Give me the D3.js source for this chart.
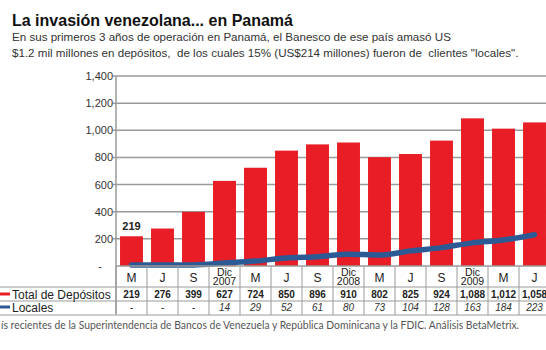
<!DOCTYPE html>
<html>
<head>
<meta charset="utf-8">
<script src="https://cdn.jsdelivr.net/npm/d3@7"></script>
<style>
  body { margin: 0; background: #fff; }
  svg { display: block; }
</style>
</head>
<body>
<div id="grafico"></div>
<script>
// datos (millones de US$)
const categorias = ["M", "J", "S", "Dic 2007", "M", "J", "S", "Dic 2008", "M", "J", "S", "Dic 2009", "M", "J"];
const totalDepositos = [219, 276, 399, 627, 724, 850, 896, 910, 802, 825, 924, 1088, 1012, 1058];
const locales = [0, 0, 0, 14, 29, 52, 61, 80, 73, 104, 128, 163, 184, 223];
const ticksY = [0, 200, 400, 600, 800, 1000, 1200, 1400];

const W = 546, H = 350;
const rojo = "#e81d25", azul = "#2c5a94", gris = "#9a9a9a";
const fuente = "'Liberation Sans', Arial, sans-serif";
const fuenteNarrow = "'Liberation Sans Narrow', 'Arial Narrow', 'Liberation Sans', sans-serif";

let svg = d3.select("#grafico").append("svg")
    .attr("width", W)
    .attr("height", H);

svg.append("rect").attr("width", W).attr("height", H).attr("fill", "#fff");

// Título y subtítulo
svg.append("text")
    .attr("x", 12).attr("y", 26)
    .attr("font-family", fuenteNarrow)
    .attr("font-weight", "bold")
    .attr("font-size", 16)
    .attr("fill", "#111")
    .text("La invasión venezolana... en Panamá");

const subtitulo = [
    "En sus primeros 3 años de operación en Panamá, el Banesco de ese país amasó US",
    "$1.2 mil millones en depósitos,  de los cuales 15% (US$214 millones) fueron de  clientes \"locales\"."
];
svg.selectAll(".sub").data(subtitulo).enter().append("text")
    .attr("class", "sub")
    .attr("x", 12)
    .attr("y", (d, i) => 41 + i * 16)
    .attr("font-family", fuente)
    .attr("font-size", 11.6)
    .attr("fill", "#333")
    .attr("xml:space", "preserve")
    .text(d => d);

// Escalas
let x = d3.scaleBand().domain(d3.range(categorias.length)).range([116, 550])
    .paddingInner(0.26).paddingOuter(0.13);
let y = d3.scaleLinear().domain([0, 1400]).range([266, 76]);

// Líneas de la cuadrícula
svg.append("g")
    .selectAll("line").data(ticksY.slice(1)).enter().append("line")
    .attr("x1", 113).attr("x2", W)
    .attr("y1", d => y(d)).attr("y2", d => y(d))
    .attr("stroke", gris).attr("stroke-width", 1.5);

svg.append("line")
    .attr("x1", 116).attr("x2", 116)
    .attr("y1", y(1400)).attr("y2", 314)
    .attr("stroke", gris).attr("stroke-width", 1.5);

// Etiquetas del eje y
svg.append("g")
    .selectAll("text").data(ticksY).enter().append("text")
    .attr("x", d => d === 0 ? 102 : 113)
    .attr("y", d => y(d) + 4)
    .attr("text-anchor", "end")
    .attr("font-family", fuente)
    .attr("font-size", 11)
    .attr("fill", "#333")
    .text(d => d === 0 ? "-" : d3.format(",")(d));

// Barras
svg.append("g")
    .selectAll("rect").data(totalDepositos).enter().append("rect")
    .attr("x", (d, i) => x(i))
    .attr("y", d => y(d))
    .attr("width", x.bandwidth())
    .attr("height", d => y(0) - y(d))
    .attr("fill", rojo);

svg.append("text")
    .attr("x", x(0) + x.bandwidth() / 2)
    .attr("y", y(totalDepositos[0]) - 6)
    .attr("text-anchor", "middle")
    .attr("font-family", fuente)
    .attr("font-weight", "bold")
    .attr("font-size", 11)
    .attr("fill", "#222")
    .text(totalDepositos[0]);

// Línea de locales
let linea = d3.line()
    .x((d, i) => x(i) + x.bandwidth() / 2)
    .y(d => y(d) - 1)
    .curve(d3.curveMonotoneX);

svg.append("path")
    .datum(locales)
    .attr("d", linea)
    .attr("fill", "none")
    .attr("stroke", azul)
    .attr("stroke-width", 5.5)
    .attr("stroke-linecap", "round");

// Tabla
let tabla = svg.append("g");
const filas = [266, 287, 301, 315];
const step = x.step();
const x0 = 116;

tabla.selectAll(".hl").data(filas).enter().append("line")
    .attr("x1", (d, i) => i === 0 ? x0 : 0).attr("x2", W)
    .attr("y1", d => d).attr("y2", d => d)
    .attr("stroke", gris).attr("stroke-width", d => d === 266 ? 1.5 : 1);

tabla.selectAll(".vl").data(d3.range(categorias.length + 1)).enter().append("line")
    .attr("x1", i => x0 + i * step).attr("x2", i => x0 + i * step)
    .attr("y1", 266).attr("y2", 315)
    .attr("stroke", gris).attr("stroke-width", 1);

// encabezados
categorias.forEach((c, i) => {
    let cx = x(i) + x.bandwidth() / 2;
    let partes = c.split(" ");
    if (partes.length === 1) {
        tabla.append("text")
            .attr("x", cx).attr("y", 282)
            .attr("text-anchor", "middle")
            .attr("font-family", fuente).attr("font-size", 12).attr("fill", "#222")
            .text(partes[0]);
    } else {
        let t = tabla.append("text")
            .attr("x", cx).attr("y", 275.5)
            .attr("text-anchor", "middle")
            .attr("font-family", fuente).attr("font-size", 10.5).attr("fill", "#222");
        partes.forEach((p, j) => {
            t.append("tspan")
                .attr("x", cx).attr("y", 275.5 + j * 9.5)
                .text(p);
        });
    }
});

tabla.selectAll(".tot").data(totalDepositos).enter().append("text")
    .attr("x", (d, i) => x(i) + x.bandwidth() / 2)
    .attr("y", 298)
    .attr("text-anchor", "middle")
    .attr("font-family", fuente).attr("font-weight", "bold").attr("font-size", 10)
    .attr("fill", "#222")
    .text(d => d3.format(",")(d));

tabla.selectAll(".loc").data(locales).enter().append("text")
    .attr("x", (d, i) => x(i) + x.bandwidth() / 2)
    .attr("y", 311)
    .attr("text-anchor", "middle")
    .attr("font-family", fuente).attr("font-style", "italic").attr("font-size", 10)
    .attr("fill", "#333")
    .text(d => d === 0 ? "-" : d);

// leyenda
const leyenda = [["Total de Depósitos", rojo, 298], ["Locales", azul, 311]];
leyenda.forEach(l => {
    tabla.append("line")
        .attr("x1", 0).attr("x2", 10)
        .attr("y1", l[2] - 4).attr("y2", l[2] - 4)
        .attr("stroke", l[1]).attr("stroke-width", 3);
    tabla.append("text")
        .attr("x", 12).attr("y", l[2] + 1)
        .attr("font-family", fuente).attr("font-size", 12).attr("fill", "#222")
        .text(l[0]);
});

// fuente
svg.append("text")
    .attr("x", 1).attr("y", 329)
    .attr("font-family", "Lato, sans-serif")
    .attr("font-size", 11)
    .attr("fill", "#555")
    .attr("textLength", 518)
    .attr("lengthAdjust", "spacingAndGlyphs")
    .text("ís recientes de la Superintendencia de Bancos de Venezuela y República Dominicana y la FDIC. Análisis BetaMetrix.");
</script>
</body>
</html>
